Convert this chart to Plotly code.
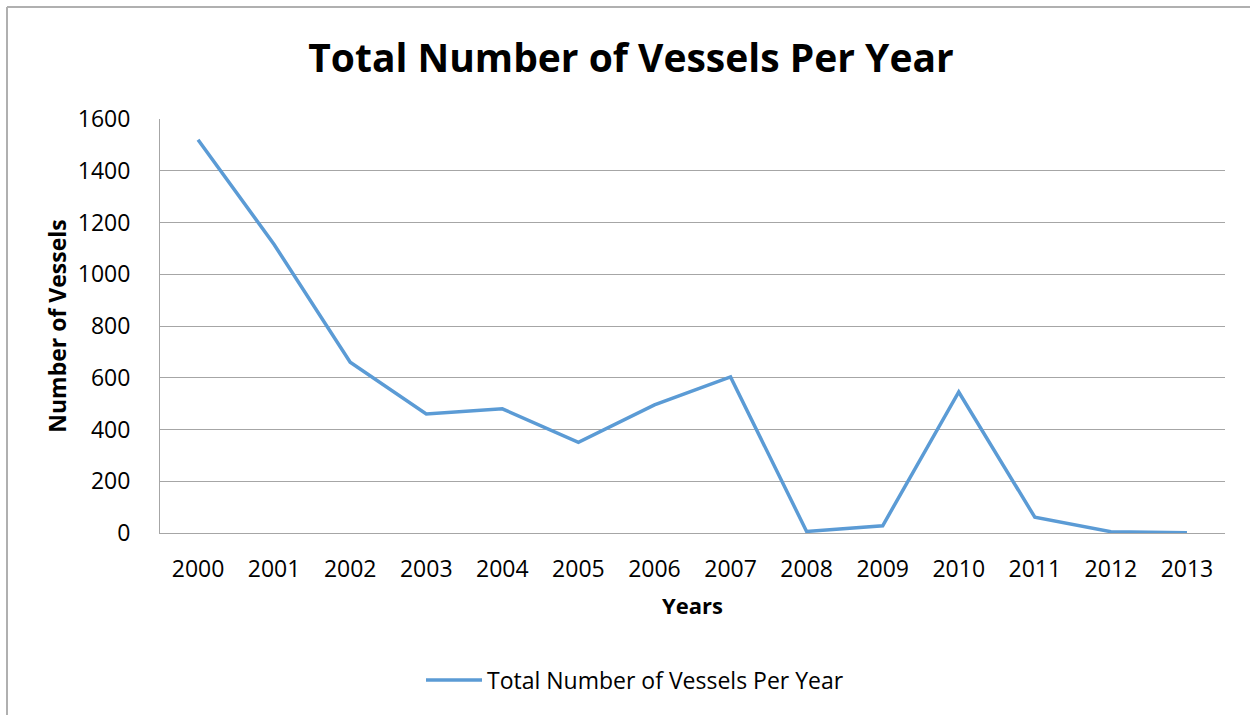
import plotly.graph_objects as go

years = ["2000", "2001", "2002", "2003", "2004", "2005", "2006",
         "2007", "2008", "2009", "2010", "2011", "2012", "2013"]
vessels = [1520, 1115, 660, 460, 480, 350, 495, 603, 6, 28, 545, 61, 5, 1]
y_ticks = [0, 200, 400, 600, 800, 1000, 1200, 1400, 1600]

W, H = 1250, 715
L, R, T, B = 160, 25, 119, 182
pw, ph = W - L - R, H - T - B

def px_x(x):
    return (x - L) / pw

def px_y(y):
    return (H - B - y) / ph

fig = go.Figure()
fig.add_trace(go.Scatter(
    x=years, y=vessels, mode="lines",
    name="Total Number of Vessels Per Year",
    line=dict(color="#5B9BD5", width=3.5),
))

grid = "#A6A6A6"
fig.update_layout(
    width=W, height=H,
    margin=dict(l=L, r=R, t=T, b=B),
    paper_bgcolor="white", plot_bgcolor="white",
    font=dict(family="Open Sans", color="black"),
    title=dict(text="<b>Total Number of Vessels Per Year</b>",
               font=dict(size=39, family="Open Sans", color="black"),
               x=631 / W, xanchor="center", y=1 - 58 / H, yanchor="middle"),
    showlegend=True,
    legend=dict(x=px_x(635), y=px_y(680), xanchor="center", yanchor="middle",
                font=dict(size=23, family="Open Sans"), itemwidth=56,
                bgcolor="rgba(0,0,0,0)"),
    xaxis=dict(
        type="category", range=[-0.5, 13.5],
        showgrid=False, showline=True, linecolor=grid, linewidth=1,
        ticks="", tickfont=dict(size=23), ticklabelstandoff=15,
        title=dict(text="<b>Years</b>", font=dict(size=22), standoff=16),
    ),
    yaxis=dict(
        range=[0, 1600], tickvals=y_ticks,
        showgrid=True, gridcolor=grid, gridwidth=1,
        showline=True, linecolor=grid, linewidth=1,
        ticks="", tickfont=dict(size=23), ticklabelstandoff=24,
        zeroline=False,
        title=dict(text="<b>Number of Vessels</b>", font=dict(size=23), standoff=4),
    ),
    shapes=[
        dict(type="line", xref="paper", yref="paper",
             x0=px_x(7), x1=px_x(7), y0=px_y(7), y1=px_y(H + 5),
             line=dict(color="#B0B0B0", width=2)),
        dict(type="line", xref="paper", yref="paper",
             x0=px_x(7), x1=px_x(W + 5), y0=px_y(7), y1=px_y(7),
             line=dict(color="#B0B0B0", width=2)),
    ],
)

fig.write_html("out.html")
